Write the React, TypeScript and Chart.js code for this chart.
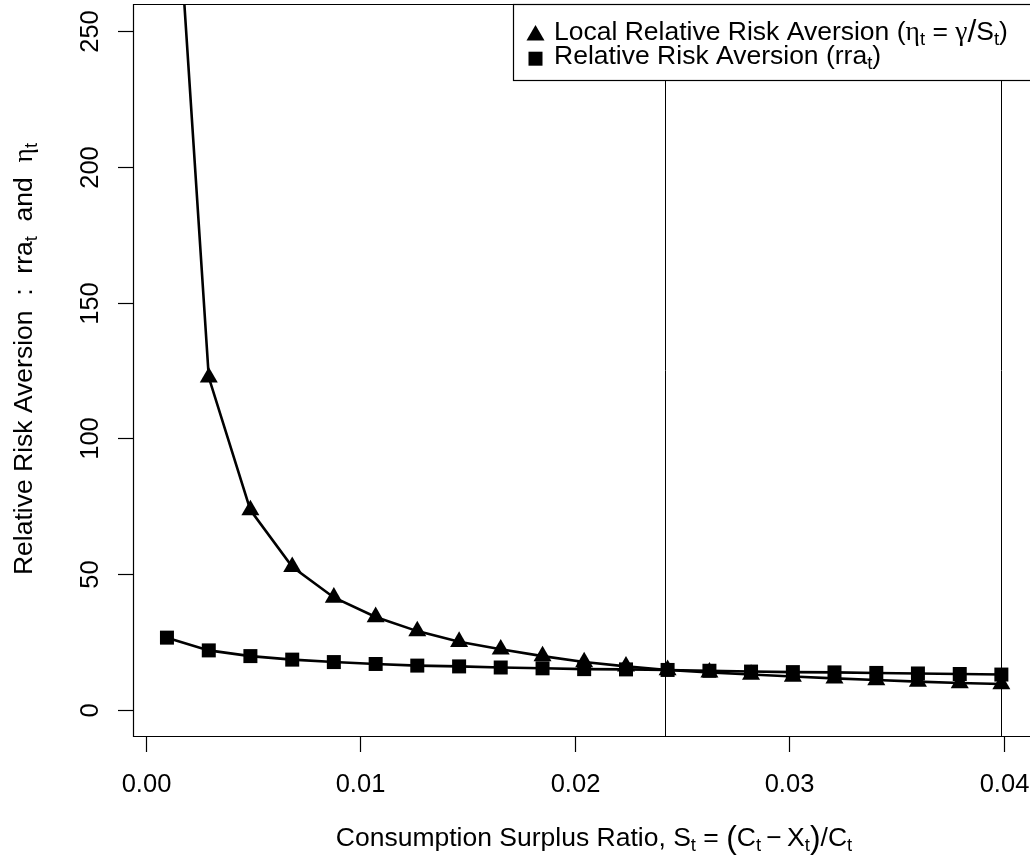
import React, { useEffect, useRef } from "react";
import { Chart, registerables } from "chart.js";

Chart.register(...registerables);

// ---- data ----
const S_VALUES = [
  0.001, 0.00295, 0.00489, 0.00684, 0.00878, 0.01073, 0.01267, 0.01462, 0.01656, 0.01851,
  0.02045, 0.0224, 0.02434, 0.02629, 0.02823, 0.03018, 0.03212, 0.03407, 0.03601, 0.03796, 0.0399,
];
const ETA_VALUES = [
  358, 122.5, 73.6, 52.7, 41.4, 34.2, 29.0, 25.1, 22.3, 19.8,
  17.6, 16.0, 14.7, 13.8, 13.0, 12.3, 11.6, 11.0, 10.4, 9.9, 9.5,
];
const RRA_VALUES = [
  26.6, 21.9, 19.8, 18.5, 17.6, 16.9, 16.3, 16.0, 15.6, 15.3,
  15.0, 14.9, 14.7, 14.4, 14.1, 13.9, 13.8, 13.6, 13.4, 13.2, 13.0,
];
const X_TICKS = [0, 0.01, 0.02, 0.03, 0.04];
const X_TICK_LABELS = ["0.00", "0.01", "0.02", "0.03", "0.04"];
const Y_TICKS = [0, 50, 100, 150, 200, 250];
const Y_TICK_LABELS = ["0", "50", "100", "150", "200", "250"];
const V_LINES = [0.0242, 0.0399];

const X_MIN = -0.000583;
const X_MAX = 0.041235;
const Y_MIN = -10;
const Y_MAX = 260;

const SANS = "'Liberation Sans', Arial, Helvetica, sans-serif";
const SERIF = "'Liberation Serif', 'Times New Roman', serif";
const FS = 26.5;
const TICK_FS = 25.5;
const SUB = 18.5;

type Seg = { t: string; font: string; dy?: number };

const norm = (t: string): Seg => ({ t, font: `${FS}px ${SANS}` });
const greek = (t: string): Seg => ({ t, font: `${FS + 1}px ${SERIF}` });
const sub = (t: string): Seg => ({ t, font: `${SUB}px ${SANS}`, dy: 5 });
const big = (t: string): Seg => ({ t, font: `${FS * 1.2}px ${SANS}`, dy: 2 });

function segsWidth(ctx: CanvasRenderingContext2D, segs: Seg[]) {
  let w = 0;
  for (const s of segs) {
    ctx.font = s.font;
    w += ctx.measureText(s.t).width;
  }
  return w;
}

function drawSegs(
  ctx: CanvasRenderingContext2D,
  segs: Seg[],
  x: number,
  y: number,
  align: "left" | "center"
) {
  const w = segsWidth(ctx, segs);
  let cx = align === "center" ? x - w / 2 : x;
  ctx.textAlign = "left";
  ctx.textBaseline = "alphabetic";
  for (const s of segs) {
    ctx.font = s.font;
    ctx.fillText(s.t, cx, y + (s.dy || 0));
    cx += ctx.measureText(s.t).width;
  }
}

const decorPlugin = {
  id: "rDecor",
  afterDatasetsDraw(chart: any) {
    const ctx: CanvasRenderingContext2D = chart.ctx;
    const { left, top, right, bottom } = chart.chartArea;
    const xs = chart.scales.x;
    const ys = chart.scales.y;
    ctx.save();
    ctx.fillStyle = "#000";
    ctx.strokeStyle = "#000";

    // vertical reference lines
    ctx.lineWidth = 1;
    for (const v of V_LINES) {
      const px = Math.round(xs.getPixelForValue(v)) + 0.5;
      ctx.beginPath();
      ctx.moveTo(px, top);
      ctx.lineTo(px, bottom);
      ctx.stroke();
    }

    // box (left, top, bottom; right edge lies beyond the picture)
    ctx.lineWidth = 1.2;
    ctx.beginPath();
    ctx.moveTo(right + 2, top + 0.5);
    ctx.lineTo(left + 0.5, top + 0.5);
    ctx.lineTo(left + 0.5, bottom - 0.5);
    ctx.lineTo(right + 2, bottom - 0.5);
    ctx.stroke();

    // x ticks + labels
    X_TICKS.forEach((v, i) => {
      const px = Math.round(xs.getPixelForValue(v)) + 0.5;
      ctx.beginPath();
      ctx.moveTo(px, bottom);
      ctx.lineTo(px, bottom + 15);
      ctx.stroke();
      ctx.font = `${TICK_FS}px ${SANS}`;
      ctx.textAlign = "center";
      ctx.textBaseline = "alphabetic";
      ctx.fillText(X_TICK_LABELS[i], px, 792);
    });

    // y ticks + rotated labels
    Y_TICKS.forEach((v, i) => {
      const py = Math.round(ys.getPixelForValue(v)) + 0.5;
      ctx.beginPath();
      ctx.moveTo(left, py);
      ctx.lineTo(left - 15, py);
      ctx.stroke();
      ctx.save();
      ctx.translate(97.5, py);
      ctx.rotate(-Math.PI / 2);
      ctx.font = `${TICK_FS}px ${SANS}`;
      ctx.textAlign = "center";
      ctx.textBaseline = "alphabetic";
      ctx.fillText(Y_TICK_LABELS[i], 0, 0);
      ctx.restore();
    });

    // x axis title
    const xTitle: Seg[] = [
      norm("Consumption Surplus Ratio, S"),
      sub("t"),
      norm(" = "),
      big("("),
      norm("C"),
      sub("t"),
      norm("\u2009\u2212\u2009"),
      norm("X"),
      sub("t"),
      big(")"),
      norm("/"),
      norm("C"),
      sub("t"),
    ];
    drawSegs(ctx, xTitle, 594, 846, "center");

    // y axis title (rotated)
    const yTitle: Seg[] = [
      norm("Relative Risk Aversion  :  rra"),
      sub("t"),
      norm("  and  "),
      greek("\u03b7"),
      sub("t"),
    ];
    ctx.save();
    ctx.translate(31.5, 359);
    ctx.rotate(-Math.PI / 2);
    drawSegs(ctx, yTitle, 0, 0, "center");
    ctx.restore();

    // legend
    ctx.fillStyle = "#fff";
    ctx.fillRect(513, 4, 600, 76);
    ctx.strokeStyle = "#000";
    ctx.lineWidth = 1.2;
    ctx.strokeRect(513.5, 4.5, 600, 76);
    ctx.fillStyle = "#000";

    // triangle marker
    const tr = 10.4;
    const tx = 535.5;
    const ty = 35.4;
    ctx.beginPath();
    ctx.moveTo(tx, ty - tr);
    ctx.lineTo(tx + 0.866 * tr, ty + 0.5 * tr);
    ctx.lineTo(tx - 0.866 * tr, ty + 0.5 * tr);
    ctx.closePath();
    ctx.fill();
    // square marker
    ctx.fillRect(528.5, 51.7, 14, 14);

    const leg1: Seg[] = [
      norm("Local Relative Risk Aversion ("),
      greek("\u03b7"),
      sub("t"),
      norm(" = "),
      greek("\u03b3"),
      big("/"),
      norm("S"),
      sub("t"),
      norm(")"),
    ];
    drawSegs(ctx, leg1, 554, 40, "left");
    const leg2: Seg[] = [norm("Relative Risk Aversion (rra"), sub("t"), norm(")")];
    drawSegs(ctx, leg2, 554, 63.5, "left");

    ctx.restore();
  },
};

export default function App() {
  const canvasRef = useRef<HTMLCanvasElement | null>(null);

  useEffect(() => {
    document.body.style.margin = "0";
    document.body.style.overflow = "hidden";
    const canvas = canvasRef.current;
    if (!canvas) return;
    const chart = new Chart(canvas, {
      type: "scatter",
      data: {
        datasets: [
          {
            label: "Relative Risk Aversion (rra_t)",
            data: S_VALUES.map((s, i) => ({ x: s, y: RRA_VALUES[i] })),
            showLine: true,
            borderColor: "#000",
            borderWidth: 2.6,
            backgroundColor: "#000",
            pointStyle: "rect",
            pointRadius: 9.9,
            pointBorderWidth: 0,
            pointBackgroundColor: "#000",
            clip: 0,
          } as any,
          {
            label: "Local Relative Risk Aversion (eta_t = gamma/S_t)",
            data: S_VALUES.map((s, i) => ({ x: s, y: ETA_VALUES[i] })),
            showLine: true,
            borderColor: "#000",
            borderWidth: 2.6,
            backgroundColor: "#000",
            pointStyle: "triangle",
            pointRadius: 10.4,
            pointBorderWidth: 0,
            pointBackgroundColor: "#000",
            clip: 0,
          } as any,
        ],
      },
      options: {
        animation: false,
        responsive: false,
        devicePixelRatio: 1,
        layout: { autoPadding: false, padding: { left: 133, top: 4, right: 0, bottom: 121 } },
        plugins: { legend: { display: false }, tooltip: { enabled: false } },
        events: [],
        scales: {
          x: { type: "linear", min: X_MIN, max: X_MAX, display: false },
          y: { type: "linear", min: Y_MIN, max: Y_MAX, display: false },
        },
      },
      plugins: [decorPlugin],
    });
    return () => chart.destroy();
  }, []);

  return (
    <div style={{ position: "absolute", left: 0, top: 0, width: 1030, height: 858, background: "#fff" }}>
      <canvas ref={canvasRef} width={1030} height={858} style={{ display: "block" }} />
    </div>
  );
}
